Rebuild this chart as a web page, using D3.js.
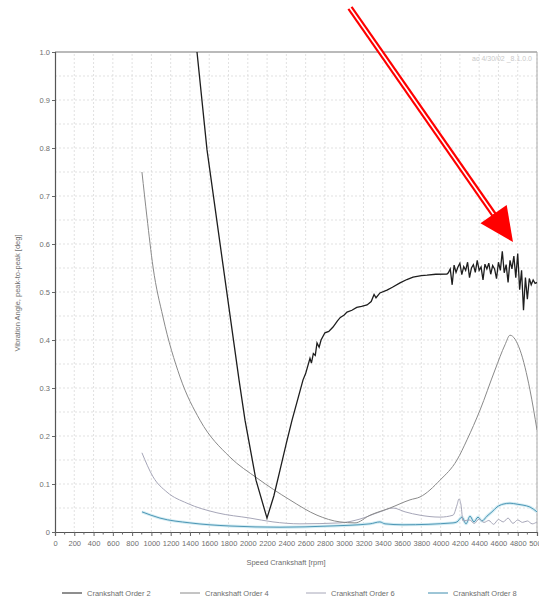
<!DOCTYPE html>
<head>
    <meta charset="utf-8" />
    <script src="https://d3js.org/d3.v7.min.js"></script>
    <style>
        body { margin: 0; background: #fff; }
        text { font-family: "Liberation Sans Narrow", "Liberation Sans", sans-serif; }
    </style>
    <title>Crankshaft orders</title>
</head>

<body>
    <script>
        // --- data: [rpm, deg] ---
        var order2 = [[1438,1.07],[1473,1.0],[1577,0.796],[1743,0.556],[1909,0.317],[1971,0.233],[2085,0.108],[2199,0.029],
            [2270,0.075],[2334,0.129],[2400,0.185],[2459,0.233],[2520,0.278],[2573,0.317],[2600,0.33],[2645,0.362],[2660,0.352],
            [2680,0.372],[2700,0.368],[2718,0.394],[2740,0.385],[2760,0.40],[2800,0.415],[2840,0.418],[2884,0.427],[2930,0.44],
            [2960,0.447],[3000,0.452],[3029,0.458],[3080,0.462],[3130,0.468],[3180,0.47],[3237,0.473],[3280,0.48],[3310,0.495],
            [3330,0.488],[3371,0.498],[3444,0.504],[3500,0.51],[3579,0.519],[3650,0.526],[3714,0.531],[3800,0.534],[3859,0.535],
            [3950,0.537],[4066,0.5375],
            [4080,0.540],[4100,0.548],[4120,0.515],[4140,0.556],[4160,0.541],[4180,0.552],[4200,0.560],[4220,0.536],[4240,0.553],
            [4260,0.545],[4280,0.562],[4300,0.530],[4320,0.550],[4340,0.557],[4360,0.541],[4380,0.566],[4400,0.545],[4420,0.552],
            [4440,0.525],[4460,0.558],[4480,0.548],[4500,0.560],[4520,0.537],[4540,0.555],[4560,0.548],[4580,0.528],[4600,0.562],
            [4620,0.545],[4640,0.585],[4660,0.540],[4680,0.557],[4700,0.520],[4720,0.566],[4740,0.548],[4760,0.575],[4780,0.530],
            [4800,0.580],[4820,0.505],[4840,0.545],[4860,0.462],[4880,0.530],[4900,0.485],[4920,0.528],[4940,0.515],[4960,0.525],
            [4980,0.518],[5000,0.520]];

        var order4 = [[902,0.75],[954,0.656],[1017,0.552],[1120,0.448],[1297,0.323],[1504,0.233],[1815,0.156],[2095,0.1125],
            [2438,0.0667],[2718,0.035],[2956,0.021],[3112,0.019],[3268,0.035],[3475,0.05],[3683,0.067],[3786,0.073],[3994,0.108],
            [4170,0.15],[4274,0.192],[4409,0.254],[4564,0.3375],[4668,0.39],[4720,0.41],[4824,0.379],[4927,0.296],[5000,0.2125]];

        var order6 = [[902,0.165],[1017,0.115],[1162,0.083],[1369,0.060],[1680,0.040],[2023,0.029],[2261,0.021],[2541,0.017],
            [2956,0.019],[3164,0.027],[3371,0.042],[3506,0.05],[3631,0.042],[3786,0.035],[3994,0.031],[4129,0.035],[4170,0.056],
            [4191,0.069],[4212,0.056],[4232,0.023],[4300,0.025],[4350,0.018],[4400,0.027],[4450,0.02],[4500,0.024],[4550,0.016],
            [4600,0.026],[4650,0.021],[4700,0.029],[4750,0.018],[4800,0.025],[4850,0.02],[4900,0.023],[4950,0.017],[5000,0.021]];

        var order8 = [[902,0.042],[1089,0.029],[1400,0.019],[1815,0.0125],[2334,0.010],[2853,0.0125],[3268,0.017],[3371,0.021],
            [3423,0.017],[3610,0.015],[4129,0.019],[4170,0.021],[4222,0.031],[4264,0.017],[4305,0.033],[4346,0.021],[4388,0.031],
            [4429,0.023],[4481,0.033],[4533,0.042],[4585,0.052],[4647,0.058],[4720,0.06],[4793,0.058],[4855,0.056],[4927,0.052],
            [5000,0.042]];

        var seriesNames = ["Crankshaft Order 2", "Crankshaft Order 4", "Crankshaft Order 6", "Crankshaft Order 8"];
        var seriesColors = ["#1e1e1e", "#8a8a8a", "#a6a6b8", "#3d8cae"];
        var xTicks = d3.range(0, 5001, 200);
        var yTicks = d3.range(0, 1.01, 0.1);
        // arrow annotation, in data units (start outside the plot, tip near the noisy peak)
        var arrowFrom = [3060, 1.092], arrowTo = [4751, 0.604];

        var width = 539, height = 601;
        var textColor = "#6e6e6e";
        var svg = d3.select("body").append("svg").attr("width", width).attr("height", height);

        var x = d3.scaleLinear().domain([0, 5000]).range([55, 537]);
        var y = d3.scaleLinear().domain([0, 1]).range([532, 52]);

        svg.append("clipPath").attr("id", "plot")
            .append("rect").attr("x", 55).attr("y", 52).attr("width", 482).attr("height", 480);

        // grid
        var grid = svg.append("g").attr("stroke", "#d9d9d9").attr("stroke-dasharray", "2,2").attr("stroke-width", 0.8);
        grid.selectAll(".gx").data(xTicks.slice(1)).join("line")
            .attr("x1", d => x(d)).attr("x2", d => x(d)).attr("y1", y(0)).attr("y2", y(1));
        grid.selectAll(".gy").data(d3.range(0.05, 1.0, 0.05)).join("line")
            .attr("x1", x(0)).attr("x2", x(5000)).attr("y1", d => y(d)).attr("y2", d => y(d));

        // frame
        svg.append("line").attr("x1", x(0)).attr("x2", x(5000)).attr("y1", y(1)).attr("y2", y(1))
            .attr("stroke", "#777").attr("stroke-width", 1.2);
        svg.append("line").attr("x1", x(5000)).attr("x2", x(5000)).attr("y1", y(1)).attr("y2", y(0))
            .attr("stroke", "#aaa");

        // axes
        var yAxis = svg.append("g").attr("transform", "translate(" + x(0) + ",0)")
            .call(d3.axisLeft(y).tickValues(yTicks).tickSize(3)
                .tickFormat(d => d === 0 ? "0" : d3.format(".1f")(d)));
        var xAxis = svg.append("g").attr("transform", "translate(0," + y(0) + ")")
            .call(d3.axisBottom(x).tickValues(xTicks).tickSize(4).tickFormat(d3.format("d")));
        xAxis.selectAll(".minor").data(d3.range(100, 5000, 200)).join("line")
            .attr("x1", d => x(d)).attr("x2", d => x(d)).attr("y1", 0).attr("y2", 2.5).attr("stroke", "#666");
        [yAxis, xAxis].forEach(a => {
            a.select(".domain").attr("stroke", "#555").attr("stroke-width", 1.2);
            a.selectAll(".tick line").attr("stroke", "#666");
            a.selectAll(".tick text").attr("font-size", 7.5).style("fill", textColor)
                .attr("font-family", "'Liberation Sans Narrow', 'Liberation Sans', sans-serif");
        });
        yAxis.selectAll(".tick text").attr("x", -5);
        xAxis.selectAll(".tick text").attr("y", 9);

        // lines
        var line = d3.line().x(d => x(d[0])).y(d => y(d[1]));
        var smooth = d3.line().x(d => x(d[0])).y(d => y(d[1])).curve(d3.curveMonotoneX);
        var plot = svg.append("g").attr("clip-path", "url(#plot)").attr("fill", "none");
        plot.append("path").datum(order8).attr("d", smooth).attr("stroke", "#d3ecf3").attr("stroke-width", 3);
        plot.append("path").datum(order8).attr("d", smooth).attr("stroke", seriesColors[3]).attr("stroke-width", 0.9);
        plot.append("path").datum(order6).attr("d", smooth).attr("stroke", seriesColors[2]).attr("stroke-width", 1);
        plot.append("path").datum(order4).attr("d", smooth).attr("stroke", seriesColors[1]).attr("stroke-width", 1);
        plot.append("path").datum(order2).attr("d", line).attr("stroke", seriesColors[0]).attr("stroke-width", 1.3);

        // faint stamp, top right
        svg.append("text").attr("x", 532).attr("y", 61).attr("text-anchor", "end")
            .attr("font-size", 7).style("fill", "#c9c9c9").text("ac 4/30/02 _8.1.0.0");

        // axis titles
        svg.append("text").attr("x", x(2500) - 10).attr("y", 565).attr("text-anchor", "middle")
            .attr("font-size", 7.5).style("fill", textColor).text("Speed Crankshaft [rpm]");
        svg.append("text").attr("transform", "translate(20,293) rotate(-90)").attr("text-anchor", "middle")
            .attr("font-size", 7.5).style("fill", textColor).text("Vibration Angle, peak-to-peak [deg]");

        // legend
        var legendX = [62, 180, 306, 428];
        var legend = svg.selectAll(".leg").data(seriesNames).join("g")
            .attr("transform", (d, i) => "translate(" + legendX[i] + ",593)");
        legend.append("line").attr("x1", 0).attr("x2", 20).attr("y1", 0).attr("y2", 0)
            .attr("stroke", (d, i) => seriesColors[i]).attr("stroke-width", 1);
        legend.append("text").attr("x", 25).attr("y", 2.5).attr("font-size", 7.5)
            .style("fill", textColor).text(d => d);

        // red arrow
        var p0 = [x(arrowFrom[0]), y(arrowFrom[1])], p1 = [x(arrowTo[0]), y(arrowTo[1])];
        var dx = p1[0] - p0[0], dy = p1[1] - p0[1], len = Math.hypot(dx, dy);
        var ux = dx / len, uy = dy / len, headLen = 34, headHalf = 16;
        var base = [p1[0] - ux * headLen, p1[1] - uy * headLen];
        svg.append("line").attr("x1", p0[0]).attr("y1", p0[1]).attr("x2", base[0] + ux * 2).attr("y2", base[1] + uy * 2)
            .attr("stroke", "#ff0000").attr("stroke-width", 6);
        svg.append("line").attr("x1", p0[0] - ux * 2).attr("y1", p0[1] - uy * 2).attr("x2", base[0]).attr("y2", base[1])
            .attr("stroke", "#fff").attr("stroke-width", 1.6);
        svg.append("polygon").attr("fill", "#ff0000")
            .attr("points", [
                [p1[0], p1[1]],
                [base[0] - uy * headHalf, base[1] + ux * headHalf],
                [base[0] + uy * headHalf, base[1] - ux * headHalf]
            ].map(p => p.join(",")).join(" "));
    </script>
</body>
